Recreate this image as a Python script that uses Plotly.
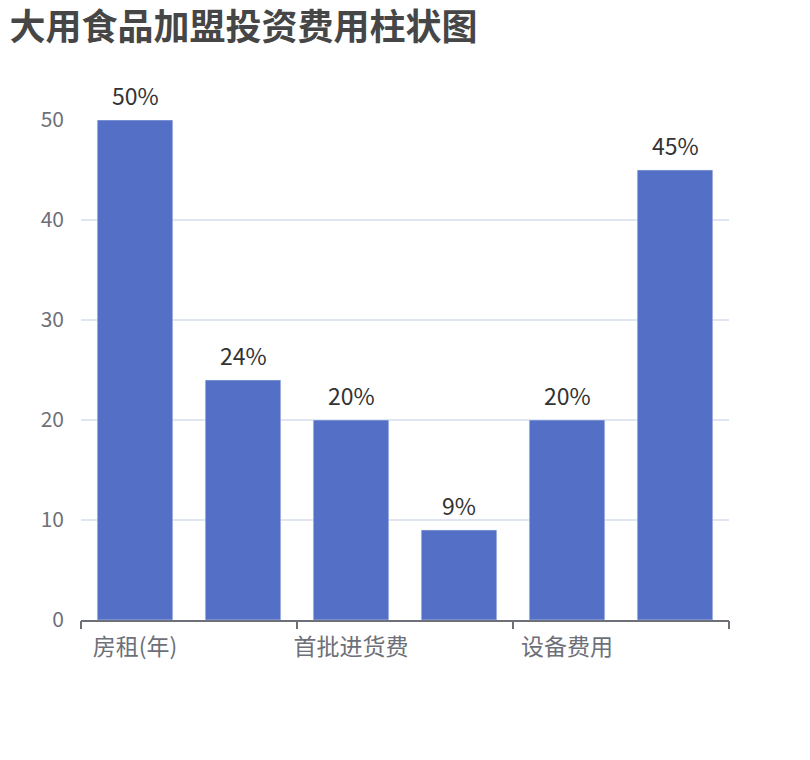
import plotly.graph_objects as go

# categories (only every other name is shown on the axis in the original)
categories = ['房租(年)', '装修费用', '首批进货费', '人员工资', '设备费用', '加盟费']
values = [50, 24, 20, 9, 20, 45]
value_labels = ['50%', '24%', '20%', '9%', '20%', '45%']
y_ticks = [0, 10, 20, 30, 40, 50]

font_family = 'Noto Sans CJK SC, Noto Sans, sans-serif'
axis_grey = '#6E7079'

x_pos = list(range(len(categories)))
shown_idx = x_pos[::2]

fig = go.Figure()
fig.add_trace(go.Bar(
    x=x_pos, y=values, width=0.7,
    marker_color='#5470C6',
    showlegend=False, hoverinfo='skip',
))
# invisible trace on second x axis, only used for boundary tick marks
fig.add_trace(go.Scatter(x=[None], y=[None], xaxis='x2', showlegend=False))

# value labels above the bars
for xi, v, lab in zip(x_pos, values, value_labels):
    fig.add_annotation(x=xi, y=v, text=lab, showarrow=False, yanchor='bottom',
                       yshift=6, font=dict(size=23, color='#333333', family=font_family))

fig.update_layout(
    width=810, height=760,
    paper_bgcolor='white', plot_bgcolor='white',
    margin=dict(l=73, r=89, t=112, b=148),
    font=dict(family=font_family),
    title=dict(text='<b>大用食品加盟投资费用柱状图</b>', x=0.002, xanchor='left',
               y=0.975, yanchor='middle',
               font=dict(size=36, color='#464646', family=font_family)),
    xaxis=dict(range=[-0.5, len(categories) - 0.5],
               tickvals=shown_idx, ticktext=[categories[i] for i in shown_idx],
               ticks='', showgrid=False, zeroline=False,
               showline=True, linecolor=axis_grey, linewidth=1.5,
               ticklabelstandoff=6,
               tickfont=dict(size=23, color=axis_grey)),
    xaxis2=dict(range=[-0.5, len(categories) - 0.5], overlaying='x', side='bottom',
                tickvals=[i - 0.5 for i in shown_idx] + [len(categories) - 0.5],
                ticks='outside', ticklen=8, tickwidth=1.5, tickcolor=axis_grey,
                showticklabels=False, showgrid=False, zeroline=False, showline=False),
    yaxis=dict(range=[0, 50], tickvals=y_ticks, showgrid=True, gridcolor='#E0E6F1',
               gridwidth=1.5, zeroline=False, showline=False, ticks='',
               ticklabelstandoff=16,
               tickfont=dict(size=21, color=axis_grey)),
)

fig.write_html('out.html')
